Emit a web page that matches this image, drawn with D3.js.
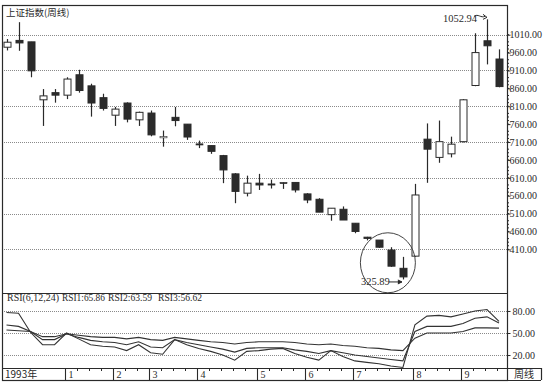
<!DOCTYPE html>
<html><head><meta charset="utf-8">
<script src="https://cdn.jsdelivr.net/npm/d3@7"></script>
<style>body{margin:0;background:#fff}svg{display:block}</style>
</head><body>
<svg id="c" width="545" height="385"></svg>
<script>
const title = "上证指数(周线)";
const opens  = [975,994,990,828,848,841,898,867,834,785,819,772,791,724,779,760,705,700,672,621,567,595,593,597,597,565,550,507,522,483,444,436,408,357,391,718,667,677,711,868,993,942];
const highs  = [998,1045,990,858,858,891,912,873,845,808,821,795,798,742,808,760,714,700,674,623,616,621,605,597,597,567,553,525,530,483,445,436,416,389,593,762,770,725,830,1014,1052.94,969];
const lows   = [966,965,891,755,820,830,848,781,798,755,765,755,726,697,754,716,693,677,595,539,558,576,580,579,569,539,514,490,492,455,435,414,361,325.89,389,596,652,667,709,866,927,863];
const closes = [989,987,909,839,841,886,854,819,804,802,774,793,730,725,770,724,704,684,632,572,595,590,592,597,576,548,514,525,492,460,441,416,363,333,562,690,711,704,828,960,979,865];
const rsi1 = [78,77,51,34,34,50,42,34,32,31,26,34,23,21,41,34,29,25,20,13,25,26,28,29,22,17,13,26,18,12,10,8,5,3,61,73,74,72,76,80,82,65.86];
const rsi2 = [61,59,52,41,41,49,44,40,38,37,34,38,31,30,41,37,34,31,28,24,29,30,30,30,27,25,22,26,23,20,18,16,14,12,52,59,59,59,63,70,72,63.59];
const rsi3 = [54,53,52,45,45,49,47,45,44,44,42,44,41,40,44,42,40,38,37,35,37,38,38,38,37,35,34,35,33,32,30,29,27,26,43,50,50,50,52,57,57,56.62];
const priceTicks = [1010,960,910,860,810,760,710,660,610,560,510,460,410];
const priceGrid = [1010,910,810,710,610,510,410];
const rsiTicks = [80,50,20];
const monthLabels = ["1993年","1","2","3","4","5","6","7","8","9"];
const monthStart  = [0,5,9,12,16,21,25,29,34,38];
const rsiParts = ["RSI(6,12,24)","RSI1:65.86","RSI2:63.59","RSI3:56.62"];
const highNote = "1052.94", lowNote = "325.89";

const svg = d3.select("#c");
const L = 2, R = 507, T = 5, MB = 293, RB = 368, SB = 380, BOXR = 541;
const ink = "#2a2a2a";
const x = d3.scaleLinear().domain([0, 41]).range([6.5, 499]);
const y = d3.scaleLinear().domain([288, 1093]).range([MB, T]);
const yr = d3.scaleLinear().domain([0, 100]).range([369.7, 296.3]);
const serif = "'Liberation Serif','Times New Roman',serif";

// grids
svg.append("g").selectAll("line").data(priceGrid).join("line")
  .attr("x1", L).attr("x2", R).attr("y1", d => Math.round(y(d)) + .5).attr("y2", d => Math.round(y(d)) + .5)
  .attr("stroke", "#8a8a8a").attr("stroke-dasharray", "1,1");
svg.append("g").selectAll("line").data(rsiTicks).join("line")
  .attr("x1", L).attr("x2", R).attr("y1", d => Math.round(yr(d)) + .5).attr("y2", d => Math.round(yr(d)) + .5)
  .attr("stroke", "#8a8a8a").attr("stroke-dasharray", "1,1");

// frame
svg.append("rect").attr("x", L + .5).attr("y", T + .5).attr("width", R - L).attr("height", SB - T)
  .attr("fill", "none").attr("stroke", ink).attr("stroke-width", 1.2);
svg.append("line").attr("x1", L).attr("x2", R).attr("y1", MB + .5).attr("y2", MB + .5).attr("stroke", ink).attr("stroke-width", 1.2);
svg.append("line").attr("x1", L).attr("x2", BOXR).attr("y1", RB + .5).attr("y2", RB + .5).attr("stroke", ink).attr("stroke-width", 1.2);
svg.append("line").attr("x1", L).attr("x2", BOXR).attr("y1", SB + .5).attr("y2", SB + .5).attr("stroke", ink).attr("stroke-width", 1.2);
svg.append("line").attr("x1", BOXR + .5).attr("x2", BOXR + .5).attr("y1", RB).attr("y2", SB).attr("stroke", ink).attr("stroke-width", 1.2);

// right axes
const ay = d3.axisRight(y).tickValues(priceTicks).tickSize(3).tickFormat(d3.format(".2f"));
const gA = svg.append("g").attr("transform", `translate(${R + .5},0)`).call(ay);
gA.select(".domain").remove();
gA.selectAll("text").attr("font-family", serif).attr("font-size", 10).attr("fill", ink).attr("x", 2);
gA.selectAll("line").attr("stroke", ink);
const minor = d3.range(410, 1011, 10).filter(v => v % 50 !== 0);
svg.append("g").selectAll("line").data(minor).join("line")
  .attr("x1", R).attr("x2", R + 2).attr("y1", d => y(d)).attr("y2", d => y(d)).attr("stroke", ink);
const ar = d3.axisRight(yr).tickValues(rsiTicks).tickSize(3).tickFormat(d3.format(".2f"));
const gR = svg.append("g").attr("transform", `translate(${R + .5},0)`).call(ar);
gR.select(".domain").remove();
gR.selectAll("text").attr("font-family", serif).attr("font-size", 10).attr("fill", ink).attr("x", 5);
gR.selectAll("line").attr("stroke", ink);

// candles
const data = opens.map((o, i) => ({i, o, h: highs[i], l: lows[i], c: closes[i]}));
const cg = svg.append("g").selectAll("g").data(data).join("g");
cg.append("line").attr("x1", d => Math.round(x(d.i)) + .5).attr("x2", d => Math.round(x(d.i)) + .5)
  .attr("y1", d => y(d.h)).attr("y2", d => y(d.l)).attr("stroke", ink).attr("stroke-width", 1.2);
cg.append("rect").attr("x", d => Math.round(x(d.i)) - 3)
  .attr("y", d => y(Math.max(d.o, d.c)))
  .attr("width", 7)
  .attr("height", d => Math.max(1.2, Math.abs(y(d.o) - y(d.c))))
  .attr("fill", d => d.c > d.o ? "#fff" : "#2b2b2b")
  .attr("stroke", ink).attr("stroke-width", d => Math.abs(d.o - d.c) < 2 ? 0.6 : 1);

// RSI lines
const line = d3.line().x((d, i) => x(i)).y(d => yr(d));
[rsi1, rsi2, rsi3].forEach(s => svg.append("path").attr("d", line(s)).attr("fill", "none")
  .attr("stroke", "#333").attr("stroke-width", 1.1));

// month strip
const mg = svg.append("g");
monthStart.forEach((s, k) => {
  const bx = k === 0 ? L : Math.round(x(s) - 2) + .5;
  if (k > 0) mg.append("line").attr("x1", bx).attr("x2", bx).attr("y1", RB).attr("y2", SB).attr("stroke", ink).attr("stroke-width", 1.1);
  mg.append("text").attr("x", bx + 3).attr("y", 377.5).text(monthLabels[k])
    .attr("font-family", k === 0 ? "'Noto Sans CJK SC'," + serif : serif).attr("font-size", 10).attr("fill", ink);
});
d3.range(5, 42).filter(i => !monthStart.includes(i)).forEach(i => {
  mg.append("line").attr("x1", Math.round(x(i) - 2) + .5).attr("x2", Math.round(x(i) - 2) + .5)
    .attr("y1", RB).attr("y2", RB + 3).attr("stroke", ink);
});
mg.append("text").attr("x", (R + BOXR) / 2).attr("y", 377.5).attr("text-anchor", "middle").text("周线")
  .attr("font-family", "'Noto Sans CJK SC'").attr("font-size", 10).attr("fill", ink);

// labels
svg.append("text").attr("x", 6).attr("y", 16).text(title)
  .attr("font-family", "'Noto Sans CJK SC'").attr("font-size", 9.5).attr("fill", ink);
const partX = [7, 62, 108, 158];
const partW = [52, 43, 44, 44];
rsiParts.forEach((t, k) => svg.append("text").attr("x", partX[k]).attr("y", 301).text(t)
  .attr("textLength", partW[k]).attr("lengthAdjust", "spacingAndGlyphs")
  .attr("font-family", serif).attr("font-size", 10).attr("fill", ink));

// annotations
const hi = data[40], lo = data[33];
svg.append("text").attr("x", x(hi.i) - 44).attr("y", y(hi.h) + 3).text(highNote)
  .attr("font-family", serif).attr("font-size", 10.5).attr("fill", ink);
svg.append("path").attr("d", `M${x(hi.i) - 13},${y(hi.h) - 3} C${x(hi.i) - 9},${y(hi.h) - 6} ${x(hi.i) - 6},${y(hi.h) - 1} ${x(hi.i) - 2},${y(hi.h) - 3}`)
  .attr("fill", "none").attr("stroke", ink);
svg.append("path").attr("d", `M${x(hi.i) - 4},${y(hi.h) - 5} L${x(hi.i)},${y(hi.h) - 2} L${x(hi.i) - 4},${y(hi.h)}`)
  .attr("fill", "none").attr("stroke", ink);
svg.append("text").attr("x", x(lo.i) - 42).attr("y", y(lo.l) + 6).text(lowNote)
  .attr("font-family", serif).attr("font-size", 10.5).attr("fill", ink);
svg.append("line").attr("x1", x(lo.i) - 14).attr("x2", x(lo.i) - 1).attr("y1", y(lo.l) + 2.5).attr("y2", y(lo.l) + 2.5).attr("stroke", ink);
svg.append("path").attr("d", `M${x(lo.i) - 5},${y(lo.l) + 0.5} L${x(lo.i) - 1},${y(lo.l) + 2.5} L${x(lo.i) - 5},${y(lo.l) + 4.5}`)
  .attr("fill", ink).attr("stroke", ink);
svg.append("ellipse").attr("cx", (x(30) + x(34)) / 2 - 3).attr("cy", (y(445) + y(300)) / 2)
  .attr("rx", 27.5).attr("ry", 30).attr("fill", "none").attr("stroke", "#444");
</script>
</body></html>
